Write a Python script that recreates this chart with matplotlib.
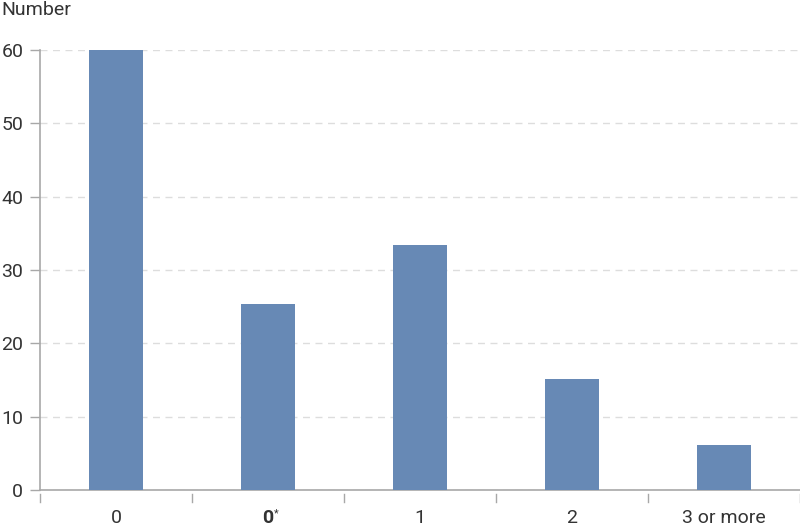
import matplotlib
matplotlib.use("Agg")
import matplotlib.pyplot as plt
import matplotlib.transforms as mtransforms

categories = ["0", "0", "1", "2", "3 or more"]
starred = [False, True, False, False, False]
values = [60, 25.3, 33.4, 15.2, 6.2]
yticks = [0, 10, 20, 30, 40, 50, 60]

plt.rcParams['font.family'] = ['Roboto', 'DejaVu Sans']

text_color = '#333333'
axis_color = '#a8a8a8'
xpad = 14

fig = plt.figure(figsize=(8, 5.28), dpi=100)
ax = fig.add_axes([0.05, 38/528, 0.95, (490-50)/528])

x = list(range(len(categories)))
ax.bar(x, values, width=0.36, color='#6789b5', zorder=3)

ax.set_xlim(-0.5, len(categories) - 0.5)
ax.set_ylim(0, 60)
ax.set_yticks(yticks)
ax.set_xticks(x)
ax.set_xticklabels(categories)

for s in ['top', 'right']:
    ax.spines[s].set_visible(False)
for s in ['left', 'bottom']:
    ax.spines[s].set_color(axis_color)
    ax.spines[s].set_linewidth(1.2)

ax.yaxis.grid(True, linestyle=(0, (5, 4)), color='#dddddd', linewidth=1, zorder=0)
ax.tick_params(axis='y', length=7, width=1, color=axis_color, labelsize=14,
               labelcolor=text_color, pad=5)
ax.tick_params(axis='x', length=0, labelsize=14, labelcolor=text_color, pad=xpad)

trans = mtransforms.blended_transform_factory(ax.transData, ax.transAxes)
for lbl, st, xi in zip(ax.get_xticklabels(), starred, x):
    if st:
        lbl.set_fontweight('bold')
        ax.annotate("*", xy=(xi, 0), xycoords=trans, xytext=(4, -xpad + 0.5),
                    textcoords='offset points', ha='left', va='top',
                    fontsize=8, color=text_color, annotation_clip=False)

# category boundary ticks below the axis (separated by a small gap)
h = ax.get_position().height * 528
for b in [i - 0.5 for i in range(len(categories) + 1)]:
    ax.plot([b, b], [-4 / h, -12 / h], transform=trans, color=axis_color,
            linewidth=1, clip_on=False)

fig.text(0.002, 0.998, "Number", ha='left', va='top', fontsize=14, color=text_color)

fig.savefig("out.png", dpi=100)
